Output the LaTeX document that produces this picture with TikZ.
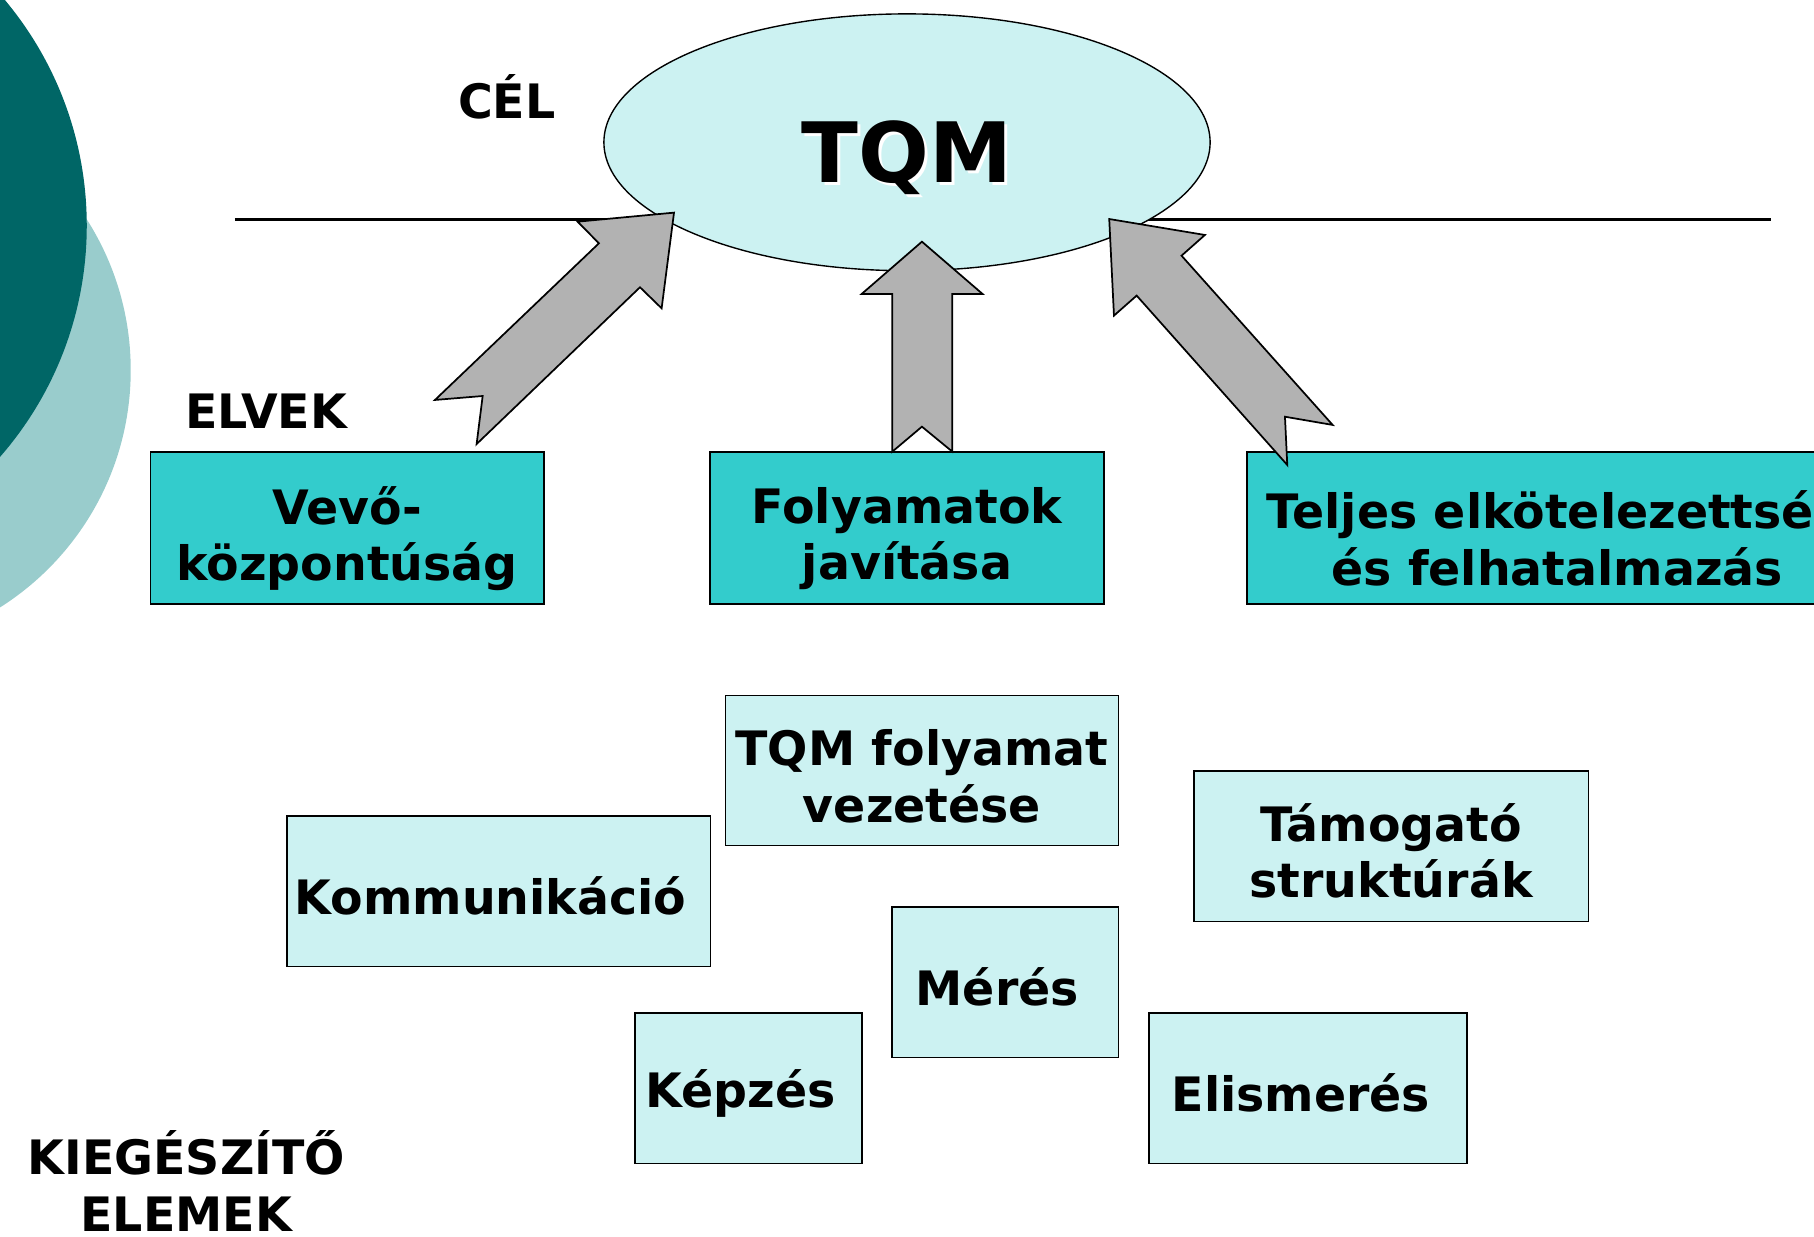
\documentclass[tikz,border=0pt]{standalone}
\usepackage{fontspec}
\setmainfont{DejaVu Sans}
\usetikzlibrary{shapes.geometric,calc}
\definecolor{deepteal}{HTML}{006666}
\definecolor{paleteal}{HTML}{99CCCC}
\definecolor{icecyan}{HTML}{CCF2F2}
\definecolor{brightteal}{HTML}{33CCCC}
\definecolor{arrowgray}{HTML}{B2B2B2}
\tikzset{
  lbl/.style={font=\fontsize{41}{49}\selectfont\bfseries, align=center, inner sep=0pt},
  boxtext/.style={font=\fontsize{41}{49}\selectfont\bfseries, align=center, inner sep=0pt},
  pillar/.style={draw=black, line width=1.5pt, fill=brightteal,
    minimum height=131pt, inner sep=0pt},
  extra/.style={draw=black, line width=1.3pt, fill=icecyan,
    minimum height=130pt, inner sep=0pt},
  bigarrow/.style={draw=black, line width=1.5pt, fill=arrowgray, line join=miter},
  bigtitle/.style={font=\fontsize{72}{80}\selectfont\bfseries, inner sep=0pt, anchor=base},
}
\begin{document}
\begin{tikzpicture}[x=1pt,y=-1pt]
\useasboundingbox (0,0) rectangle (1568,1069);
\clip (0,0) rectangle (1568,1069);

% decorative discs on the left edge
\fill[paleteal] (-129.5,320) circle[radius=242.5pt];
\fill[deepteal] (-229,195) circle[radius=304pt];

% dividing line between goal and principles
\coordinate (hl) at (203,189.6);
\coordinate (hr) at (1531,189.6);
\draw[line width=2pt] (hl) -- (hr);

% goal
\node[ellipse, draw=black, line width=1.2pt, fill=icecyan,
      minimum width=524pt, minimum height=222pt, inner sep=0pt] (goal) at (784,123) {};
\node[bigtitle, text=white] (tqmshadow) at (786.5,160.5) {TQM};
\node[bigtitle] (tqm) at (784,158) {TQM};

% section labels
\node[lbl, anchor=base] (cel) at (438,102) {CÉL};
\node[lbl, anchor=base] (elvek) at (230,370) {ELVEK};
\node[lbl] (kieg) at (161,1021) {KIEGÉSZÍTŐ\\ELEMEK};

% principles
\node[pillar, minimum width=340pt] (p1) at (300,456.5) {};
\node[pillar, minimum width=340pt] (p2) at (784,456.5) {};
\node[pillar, minimum width=536pt] (p3) at (1346,456.5) {};
\node[boxtext] (p1t) at ($(p1)+(0,9)$) {Vevő-\\központúság};
\node[boxtext] (p2t) at ($(p2)+(0,9)$) {Folyamatok\\javítása};
\node[boxtext] (p3t) at ($(p3)+(0,9)$) {Teljes elkötelezettség\\és felhatalmazás};

% supporting elements
\node[extra, minimum width=340pt] (e1) at (797,666) {};
\node[extra, minimum width=366pt] (e2) at (431,770.5) {};
\node[extra, minimum width=341pt] (e3) at (1202.5,731.5) {};
\node[extra, minimum width=196pt] (e4) at (869,849) {};
\node[extra, minimum width=196pt] (e5) at (647,940.5) {};
\node[extra, minimum width=275pt] (e6) at (1130.5,940.5) {};
\node[boxtext] (e1t) at ($(e1)+(0,5)$) {TQM folyamat\\vezetése};
\node[boxtext] (e2t) at ($(e2)+(-7,4)$) {Kommunikáció};
\node[boxtext] (e3t) at ($(e3)+(0,4)$) {Támogató\\struktúrák};
\node[boxtext] (e4t) at ($(e4)+(-7,4)$) {Mérés};
\node[boxtext] (e5t) at ($(e5)+(-7,5)$) {Képzés};
\node[boxtext] (e6t) at ($(e6)+(-6,4)$) {Elismerés};

% block arrows from the principles to the goal
\draw[bigarrow] (582.6,183.8) -- (571.9,266.5) -- (553.2,248.3) -- (412,383.8)
  -- (417.2,342.3) -- (376,345.7) -- (517.7,210.3) -- (499.3,191.6) -- cycle;
\draw[bigarrow] (796.9,208.9) -- (849.3,254.1) -- (823.2,254.1) -- (823.2,390.4)
  -- (796.9,368.8) -- (771.3,390.4) -- (771.3,254.1) -- (744.8,254.1) -- cycle;
\draw[bigarrow] (958.8,189.3) -- (1041.5,203.1) -- (1021.3,221) -- (1151.9,367.3)
  -- (1110.7,360.2) -- (1112.7,401.9) -- (982.5,255.5) -- (962.9,272.8) -- cycle;
\end{tikzpicture}
\end{document}
